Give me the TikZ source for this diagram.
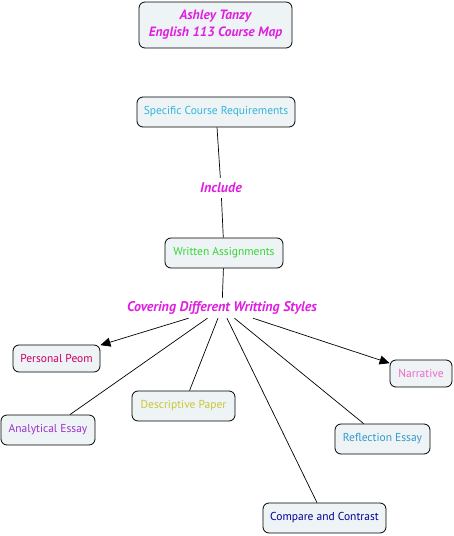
\documentclass[tikz,border=0pt]{standalone}
\usepackage{fontspec}
\setmainfont{PT Sans}
\usetikzlibrary{arrows.meta}
\definecolor{boxfill}{HTML}{EEF3F5}
\definecolor{mag}{HTML}{E020E0}
\definecolor{cSpec}{HTML}{33B5DD}
\definecolor{cWrit}{HTML}{33D633}
\definecolor{cPers}{HTML}{CC0066}
\definecolor{cAnal}{HTML}{9933CC}
\definecolor{cDesc}{HTML}{C8C832}
\definecolor{cNarr}{HTML}{EE66CC}
\definecolor{cRefl}{HTML}{3399CC}
\definecolor{cComp}{HTML}{000099}
\tikzset{
  concept/.style={draw=black, line width=0.8pt, fill=boxfill, rounded corners=6pt,
    font=\fontsize{11.5}{13}\selectfont, inner sep=0pt},
  linklabel/.style={text=mag, font=\fontsize{14}{16}\selectfont\bfseries\itshape, inner sep=0pt},
  conn/.style={draw=black, line width=0.7pt},
  arr/.style={conn, -{Triangle[length=10pt,width=9pt]}}
}
\begin{document}
\begin{tikzpicture}[x=1pt,y=-1pt]
\useasboundingbox (0,0) rectangle (454,536);
\node[concept, minimum width=153pt, minimum height=46pt, align=center, font=\fontsize{13.5}{17}\selectfont\bfseries\itshape, text=mag] (title) at (215.5,25) {Ashley Tanzy\\English 113 Course Map};
\node[concept, minimum width=158pt, minimum height=30pt, text=cSpec] (spec) at (216,112) {Specific Course Requirements};
\node[linklabel, minimum width=44pt, minimum height=20pt] (incl) at (221,188) {Include};
\node[concept, minimum width=118pt, minimum height=30pt, text=cWrit] (writ) at (224,253) {Written Assignments};
\node[linklabel, minimum width=200pt, minimum height=20pt] (cov) at (222,308) {Covering Different Writting Styles};
\node[concept, minimum width=87pt, minimum height=27pt, text=cPers] (pers) at (56.5,358.5) {Personal Peom};
\node[concept, minimum width=94pt, minimum height=30pt, text=cAnal] (anal) at (48,430) {Analytical Essay};
\node[concept, minimum width=103pt, minimum height=30pt, text=cDesc] (desc) at (183.5,406) {Descriptive Paper};
\node[concept, minimum width=62pt, minimum height=27pt, text=cNarr] (narr) at (421,373.5) {Narrative};
\node[concept, minimum width=95pt, minimum height=30pt, text=cRefl] (refl) at (382.5,439) {Reflection Essay};
\node[concept, minimum width=123pt, minimum height=30pt, text=cComp] (comp) at (324.5,518) {Compare and Contrast};
\draw[conn] (spec) -- (incl);
\draw[conn] (incl) -- (writ);
\draw[conn] (writ) -- (cov);
\draw[arr] (cov) -- (pers);
\draw[conn] (cov) -- (anal);
\draw[conn] (cov) -- (desc);
\draw[conn] (cov) -- (comp);
\draw[conn] (cov) -- (refl);
\draw[arr] (cov) -- (narr);
\end{tikzpicture}
\end{document}
